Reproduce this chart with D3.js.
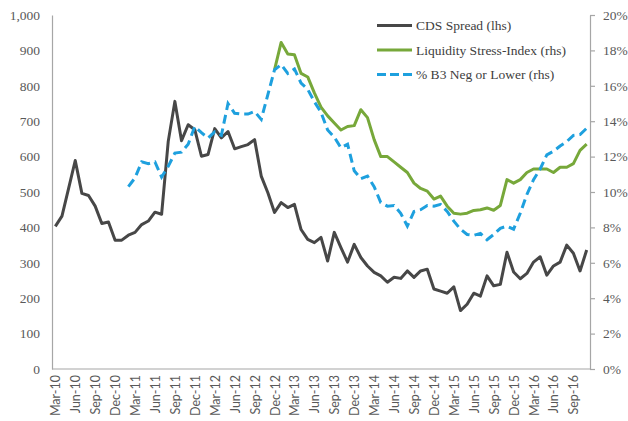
<!DOCTYPE html>
<html>
<head>
<meta charset="utf-8">
<script src="https://cdn.jsdelivr.net/npm/d3@7"></script>
<style>
  html, body { margin: 0; padding: 0; background: #fff; }
  svg { display: block; }
</style>
</head>
<body>
<svg id="chart" width="628" height="421"></svg>
<script>
// Monthly categories, Mar-10 .. Nov-16
const months = [
  "Mar-10","Apr-10","May-10","Jun-10","Jul-10","Aug-10","Sep-10","Oct-10","Nov-10","Dec-10",
  "Jan-11","Feb-11","Mar-11","Apr-11","May-11","Jun-11","Jul-11","Aug-11","Sep-11","Oct-11","Nov-11","Dec-11",
  "Jan-12","Feb-12","Mar-12","Apr-12","May-12","Jun-12","Jul-12","Aug-12","Sep-12","Oct-12","Nov-12","Dec-12",
  "Jan-13","Feb-13","Mar-13","Apr-13","May-13","Jun-13","Jul-13","Aug-13","Sep-13","Oct-13","Nov-13","Dec-13",
  "Jan-14","Feb-14","Mar-14","Apr-14","May-14","Jun-14","Jul-14","Aug-14","Sep-14","Oct-14","Nov-14","Dec-14",
  "Jan-15","Feb-15","Mar-15","Apr-15","May-15","Jun-15","Jul-15","Aug-15","Sep-15","Oct-15","Nov-15","Dec-15",
  "Jan-16","Feb-16","Mar-16","Apr-16","May-16","Jun-16","Jul-16","Aug-16","Sep-16","Oct-16","Nov-16"
];

// Labelled months on the category axis
const tickLabels = [
  "Mar-10","Jun-10","Sep-10","Dec-10","Mar-11","Jun-11","Sep-11","Dec-11","Mar-12","Jun-12",
  "Sep-12","Dec-12","Mar-13","Jun-13","Sep-13","Dec-13","Mar-14","Jun-14","Sep-14","Dec-14",
  "Mar-15","Jun-15","Sep-15","Dec-15","Mar-16","Jun-16","Sep-16"
];

// CDS spread, bp (left axis)
const cdsSpread = [
  403,432,510,589,496,490,460,411,415,364,
  364,378,386,408,418,443,437,643,756,645,
  690,676,601,606,679,653,671,622,628,634,
  648,545,498,442,470,456,465,394,366,357,
  372,305,386,343,302,352,315,291,273,263,
  245,259,256,277,259,277,282,226,220,214,
  232,165,183,214,206,263,235,239,330,274,
  255,270,302,317,265,291,302,350,327,277,
  336
];

// Liquidity Stress-Index, % (right axis), starts Dec-12
const liquidityStart = "Dec-12";
const liquidityStress = [
  16.9,18.45,17.8,17.75,16.7,16.5,15.6,14.8,14.3,13.9,
  13.5,13.7,13.75,14.65,14.2,12.96,12.0,12.0,11.7,11.4,
  11.1,10.5,10.2,10.05,9.6,9.77,9.2,8.8,8.75,8.8,
  8.96,9.0,9.1,8.97,9.24,10.7,10.5,10.7,11.1,11.3,
  11.3,11.3,11.1,11.4,11.4,11.6,12.35,12.7
];

// % B3 Neg or Lower, % (right axis), starts Feb-11
const b3Start = "Feb-11";
const b3NegOrLower = [
  10.3,10.8,11.7,11.6,11.7,10.85,11.45,12.2,12.25,12.7,
  13.7,13.35,13.05,13.4,13.2,15.0,14.45,14.4,14.4,14.55,
  14.1,15.5,16.9,17.2,16.7,16.95,16.15,15.8,15.1,14.5,
  13.5,13.1,12.5,12.7,11.2,10.75,10.9,10.3,9.4,9.2,
  9.24,8.8,8.07,8.9,9.0,9.24,9.2,9.3,8.9,8.35,
  7.9,7.6,7.55,7.66,7.3,7.6,7.95,8.07,7.9,8.8,
  9.86,10.7,11.3,12.1,12.3,12.6,12.85,13.2,13.25,13.6
];

const leftTicks = [0,100,200,300,400,500,600,700,800,900,1000];
const rightTicks = [0,2,4,6,8,10,12,14,16,18,20];

const seriesNames = ["CDS Spread (lhs)", "Liquidity Stress-Index (rhs)", "% B3 Neg or Lower (rhs)"];
const colors = { cds: "#474747", liq: "#77a83a", b3: "#1ea0de" };

const plot = { left: 52, right: 590, top: 15, bottom: 369 };
const textColor = "#595959";
const axisColor = "#a6a6a6";
const serif = "'Liberation Serif', 'Times New Roman', serif";
const sans = "Lato, 'Open Sans', sans-serif";

const svg = d3.select("#chart");

const x = d3.scalePoint().domain(months).range([plot.left, plot.right]).padding(0.5);
const yL = d3.scaleLinear().domain([0, 1000]).range([plot.bottom, plot.top]);
const yR = d3.scaleLinear().domain([0, 20]).range([plot.bottom, plot.top]);

// pad a partial series so it lines up with the month list
function aligned(values, start) {
  const offset = months.indexOf(start);
  return months.map((m, i) => ({ m, v: (i >= offset && i - offset < values.length) ? values[i - offset] : null }));
}

const cdsData = months.map((m, i) => ({ m, v: cdsSpread[i] }));
const liqData = aligned(liquidityStress, liquidityStart);
const b3Data = aligned(b3NegOrLower, b3Start);

// Left axis
const gL = svg.append("g")
  .attr("transform", `translate(${plot.left},0)`)
  .call(d3.axisLeft(yL).tickValues(leftTicks).tickFormat(d3.format(",")).tickSize(0).tickPadding(12));
gL.select(".domain").attr("stroke", axisColor).attr("stroke-width", 1.2);
gL.selectAll("text").attr("fill", textColor).style("font-family", serif).style("font-size", "13.5px");

// Right axis
const gR = svg.append("g")
  .attr("transform", `translate(${plot.right},0)`)
  .call(d3.axisRight(yR).tickValues(rightTicks).tickFormat(d => d + "%").tickSize(5).tickSizeOuter(0).tickPadding(8));
gR.select(".domain").attr("stroke", axisColor).attr("stroke-width", 1.2);
gR.selectAll(".tick line").attr("stroke", axisColor).attr("stroke-width", 1.2);
gR.selectAll("text").attr("fill", textColor).style("font-family", serif).style("font-size", "13.5px");

// Category axis
const gB = svg.append("g")
  .attr("transform", `translate(0,${plot.bottom})`)
  .call(d3.axisBottom(x).tickValues(tickLabels).tickSize(0).tickSizeOuter(0));
gB.select(".domain").attr("stroke", axisColor).attr("stroke-width", 1.2)
  .attr("d", `M${plot.left},0H${plot.right}`);
gB.selectAll("text")
  .attr("fill", textColor)
  .style("font-family", sans).style("font-size", "12.5px")
  .attr("text-anchor", "end")
  .attr("transform", "rotate(-90)")
  .attr("x", -6).attr("y", 0).attr("dy", "0.36em");

// Series lines
const lineL = d3.line().defined(d => d.v != null).x(d => x(d.m)).y(d => yL(d.v));
const lineR = d3.line().defined(d => d.v != null).x(d => x(d.m)).y(d => yR(d.v));

svg.append("path").datum(cdsData)
  .attr("fill", "none").attr("stroke", colors.cds).attr("stroke-width", 3)
  .attr("stroke-linejoin", "round").attr("d", lineL);

svg.append("path").datum(liqData)
  .attr("fill", "none").attr("stroke", colors.liq).attr("stroke-width", 3)
  .attr("stroke-linejoin", "round").attr("d", lineR);

svg.append("path").datum(b3Data)
  .attr("fill", "none").attr("stroke", colors.b3).attr("stroke-width", 3)
  .attr("stroke-dasharray", "9,5").attr("d", lineR);

// Legend
const legend = svg.append("g").attr("transform", "translate(377,0)");
const legendRows = [
  { name: seriesNames[0], color: colors.cds, dash: null, y: 25.5 },
  { name: seriesNames[1], color: colors.liq, dash: null, y: 50 },
  { name: seriesNames[2], color: colors.b3, dash: "9,4", y: 74.5 }
];
legendRows.forEach(r => {
  legend.append("line")
    .attr("x1", 0).attr("x2", 35).attr("y1", r.y).attr("y2", r.y)
    .attr("stroke", r.color).attr("stroke-width", 3)
    .attr("stroke-dasharray", r.dash);
  legend.append("text")
    .attr("x", 39).attr("y", r.y).attr("dy", "0.35em")
    .attr("fill", "#404040")
    .style("font-family", serif).style("font-size", "13.5px")
    .text(r.name);
});
</script>
</body>
</html>
